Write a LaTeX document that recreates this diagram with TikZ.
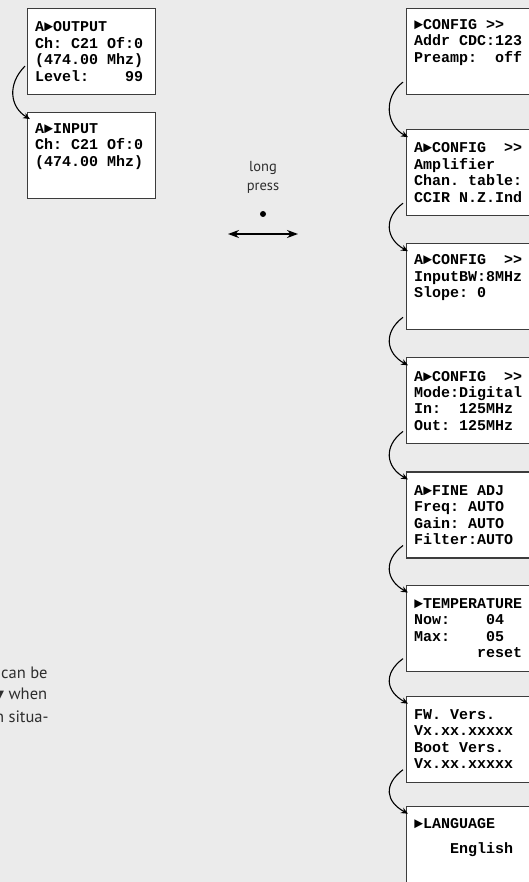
\documentclass[tikz,border=0pt]{standalone}
\usepackage{fontspec}
\usetikzlibrary{arrows.meta,positioning,calc}
\newfontfamily\lcdfont{Liberation Mono}
\newfontfamily\notefont{PT Sans}
\newfontfamily\symfont{DejaVu Sans}
\definecolor{panelbg}{HTML}{EBEBEB}
\definecolor{scrline}{HTML}{3C3C3C}
\definecolor{notegray}{HTML}{2E2E2E}
\newcommand{\tri}{►}
\newcommand{\pad}[1]{\hspace*{#1\fontcharwd\font`0}}
\newcommand{\lcd}{\lcdfont\bfseries\fontsize{15}{16.4}\selectfont\frenchspacing}

\begin{document}
\begin{tikzpicture}[x=1pt, y=1pt,
  screen/.style={draw=scrline, line width=1.1pt, fill=white, anchor=north west,
                 minimum width=128pt, minimum height=86pt, text width=113pt,
                 inner xsep=7.5pt, align=flush left, text=black, font=\lcd},
  flow/.style={-{Stealth[length=7pt,width=6pt]}, line width=1.1pt},
  swap/.style={{Stealth[length=11pt,width=8pt]}-{Stealth[length=11pt,width=8pt]}, line width=1.8pt},
  note/.style={anchor=west, inner sep=0pt, text=notegray, font=\notefont\fontsize{16.5}{22}\selectfont}
]
\useasboundingbox (0,0) rectangle (529,-882);
\clip (0,0) rectangle (529,-882);
\fill[panelbg] (0,0) rectangle (529,-882);

% left column
\node[screen] (out) at (27,-8) {A\tri OUTPUT\\Ch: C21 Of:0\\(474.00 Mhz)\\Level:\pad{4}99};
\node[screen, below=17pt of out] (in) {A\tri INPUT\\Ch: C21 Of:0\\(474.00 Mhz)\\\strut};
\draw[flow] ($(out.south west)+(-2,29)$) .. controls +(-18,-18) and +(-20,12) .. ($(in.north west)+(3,-7)$);

% long press
\node[align=center, inner sep=0pt, text=notegray, font=\notefont\fontsize{14.5}{19}\selectfont] (lp) at (263,-177) {long\\press};
\node[circle, fill=black, inner sep=0pt, minimum size=6pt] (dot) at (263,-214) {};
\coordinate (swL) at (228,-234);
\coordinate (swR) at (298,-234);
\draw[swap] (swL) -- (swR);

% right column
\node[screen] (cfg) at (406,-8) {\tri CONFIG >>\\Addr CDC:123\\Preamp:\pad{2}off\\\strut};
\node[screen, below=34pt of cfg] (amp) {A\tri CONFIG\pad{2}>>\\Amplifier\\Chan. table:\\CCIR N.Z.Ind};
\node[screen, below=27pt of amp] (bw) {A\tri CONFIG\pad{2}>>\\InputBW:8MHz\\Slope: 0\\\strut};
\node[screen, below=27pt of bw] (mode) {A\tri CONFIG\pad{2}>>\\Mode:Digital\\In:\pad{2}125MHz\\Out: 125MHz};
\node[screen, below=27pt of mode] (fine) {A\tri FINE ADJ\\Freq: AUTO\\Gain: AUTO\\Filter:AUTO};
\node[screen, below=26pt of fine] (temp) {\tri TEMPERATURE\\Now:\pad{4}04\\Max:\pad{4}05\\\pad{7}reset};
\node[screen, below=24pt of temp] (fw) {FW. Vers.\\Vx.xx.xxxxx\\Boot Vers.\\Vx.xx.xxxxx};
\node[screen, below=23pt of fw, minimum height=98pt] (lang) {\tri LANGUAGE\\[8.6pt]\pad{4}English\\\strut\\\strut};
\foreach \a/\b in {cfg/amp, amp/bw, bw/mode, mode/fine, fine/temp, temp/fw, fw/lang}
  \draw[flow] ($(\a.south west)+(-3,13)$) .. controls +(-20,-15) and +(-22,12) .. ($(\b.north west)+(2,-8)$);

% cut-off note text
\node[note] (n1) at (1,-673) {can be};
\node[note] (n2) at (-6,-695) {{\symfont\fontsize{13}{22}\selectfont ▼} when};
\node[note] (n3) at (-5,-717) {n situa-};
\end{tikzpicture}
\end{document}
